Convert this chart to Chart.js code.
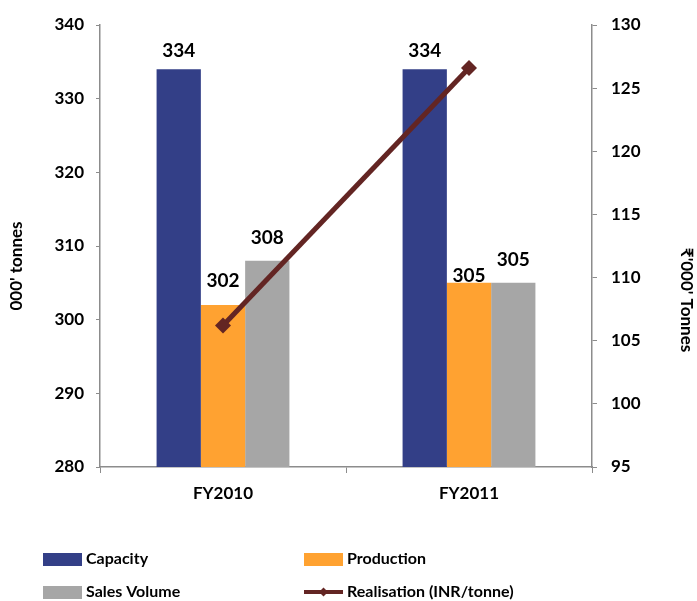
<!DOCTYPE html>
<html>
<head>
<meta charset="utf-8">
<script src="https://cdn.jsdelivr.net/npm/chart.js@4.4.0/dist/chart.umd.min.js"></script>
<style>
  body { margin: 0; background: #fff; }
  #wrap { width: 697px; height: 601px; }
</style>
</head>
<body>
<div id="wrap"><canvas id="prodChart" width="697" height="601"></canvas></div>
<script>
// Figures for the two financial years
const years = ['FY2010', 'FY2011'];
const capacity = [334, 334];
const production = [302, 305];
const salesVolume = [308, 305];
const realisation = [106.2, 126.6];

const leftTicks = { min: 280, max: 340, step: 10 };
const rightTicks = { min: 95, max: 130, step: 5 };

const leftTitle = "000' tonnes";
const rightTitle = "\u20B9'000' Tonnes";

const FONT = "Lato, 'DejaVu Sans', sans-serif";
const boldFont = size => ({ family: FONT, size: size, weight: 'bold' });

// how far above each bar top its value label sits
const labelLift = {
    'Capacity': [18, 18],
    'Production': [24, 7],
    'Sales Volume': [23, 23]
};

// value labels over the bars
const barLabels = {
    id: 'barLabels',
    afterDatasetsDraw(chart) {
        const ctx = chart.ctx;
        ctx.save();
        ctx.font = 'bold 19px ' + FONT;
        ctx.fillStyle = '#000';
        ctx.textAlign = 'center';
        ctx.textBaseline = 'middle';
        chart.data.datasets.forEach((ds, i) => {
            if (ds.type !== 'bar') return;
            chart.getDatasetMeta(i).data.forEach((bar, j) => {
                ctx.fillText(String(ds.data[j]), bar.x, bar.y - labelLift[ds.label][j]);
            });
        });
        ctx.restore();
    }
};

// rotated axis titles, placed a little below the axis middle
const axisTitles = {
    id: 'axisTitles',
    afterDraw(chart) {
        const ctx = chart.ctx;
        ctx.save();
        ctx.font = 'bold 17px ' + FONT;
        ctx.fillStyle = '#000';
        ctx.textAlign = 'center';
        ctx.textBaseline = 'middle';

        ctx.translate(17, 266);
        ctx.rotate(-Math.PI / 2);
        ctx.fillText(leftTitle, 0, 0);
        ctx.setTransform(1, 0, 0, 1, 0, 0);

        ctx.translate(686, 300);
        ctx.rotate(Math.PI / 2);
        ctx.fillText(rightTitle, 0, 0);
        ctx.restore();
    }
};

// two-column legend under the axis
const bottomLegend = {
    id: 'bottomLegend',
    afterDraw(chart) {
        const ctx = chart.ctx;
        const slots = [[43, 559], [304, 559], [43, 592], [304, 592]];
        const order = ['Capacity', 'Production', 'Sales Volume', 'Realisation (INR/tonne)'];
        ctx.save();
        ctx.font = 'bold 16px ' + FONT;
        ctx.textBaseline = 'middle';
        order.forEach((name, k) => {
            const ds = chart.data.datasets.find(d => d.label === name);
            const [x, y] = slots[k];
            if (ds.type === 'line') {
                ctx.strokeStyle = ds.borderColor;
                ctx.lineWidth = 4;
                ctx.beginPath();
                ctx.moveTo(x, y);
                ctx.lineTo(x + 39, y);
                ctx.stroke();
                ctx.fillStyle = ds.borderColor;
                ctx.beginPath();
                ctx.moveTo(x + 19.5, y - 4.5);
                ctx.lineTo(x + 24, y);
                ctx.lineTo(x + 19.5, y + 4.5);
                ctx.lineTo(x + 15, y);
                ctx.closePath();
                ctx.fill();
            } else {
                ctx.fillStyle = ds.backgroundColor;
                ctx.fillRect(x, y - 6, 39, 13);
            }
            ctx.fillStyle = '#000';
            ctx.fillText(name, x + 43, y);
        });
        ctx.restore();
    }
};

const axisGrey = '#8c8c8c';

new Chart(document.getElementById('prodChart').getContext('2d'), {
    data: {
        labels: years,
        datasets: [
            {
                type: 'line',
                label: 'Realisation (INR/tonne)',
                data: realisation,
                yAxisID: 'y1',
                borderColor: '#632523',
                backgroundColor: '#632523',
                borderWidth: 5,
                pointStyle: 'rectRot',
                pointRadius: 8,
                pointBorderWidth: 0,
                order: 0
            },
            {
                type: 'bar',
                label: 'Capacity',
                data: capacity,
                yAxisID: 'y',
                backgroundColor: '#333F87',
                order: 1
            },
            {
                type: 'bar',
                label: 'Production',
                data: production,
                yAxisID: 'y',
                backgroundColor: '#FFA231',
                order: 1
            },
            {
                type: 'bar',
                label: 'Sales Volume',
                data: salesVolume,
                yAxisID: 'y',
                backgroundColor: '#A6A6A6',
                order: 1
            }
        ]
    },
    options: {
        responsive: false,
        animation: false,
        layout: { padding: { top: 25, left: 0, right: 0, bottom: 0 } },
        datasets: {
            bar: { barPercentage: 1, categoryPercentage: 0.54 }
        },
        plugins: {
            legend: { display: false },
            tooltip: { enabled: false }
        },
        scales: {
            x: {
                grid: { drawOnChartArea: false, tickLength: 6, color: axisGrey },
                border: { color: axisGrey, width: 1.5 },
                ticks: { font: boldFont(17), color: '#000', padding: 10 },
                afterFit(s) { s.height = 134; }
            },
            y: {
                position: 'left',
                min: leftTicks.min,
                max: leftTicks.max,
                grid: { drawOnChartArea: false, tickLength: 4, color: axisGrey },
                border: { color: axisGrey, width: 1.5 },
                ticks: { stepSize: leftTicks.step, font: boldFont(17), color: '#000', padding: 12 },
                afterFit(s) { s.width = 100; }
            },
            y1: {
                position: 'right',
                min: rightTicks.min,
                max: rightTicks.max,
                grid: { drawOnChartArea: false, tickLength: 5, color: axisGrey },
                border: { color: axisGrey, width: 1.5 },
                ticks: { stepSize: rightTicks.step, font: boldFont(17), color: '#000', padding: 14 },
                afterFit(s) { s.width = 105; }
            }
        }
    },
    plugins: [barLabels, axisTitles, bottomLegend]
});
</script>
</body>
</html>
